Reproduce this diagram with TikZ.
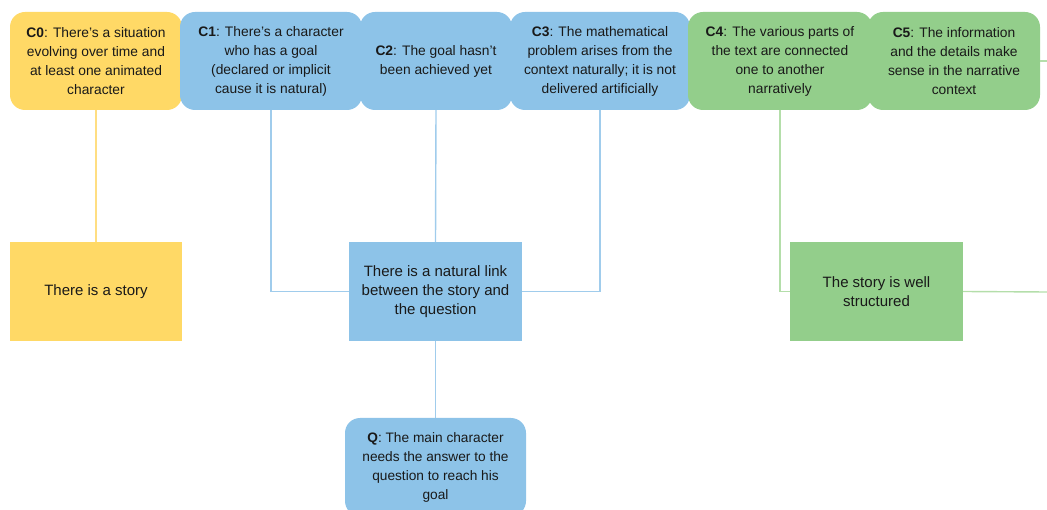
\documentclass[tikz,border=0pt]{standalone}
\usepackage{fontspec}
\setmainfont{Liberation Sans}
\definecolor{yel}{RGB}{255,217,102}
\definecolor{blu}{RGB}{141,195,232}
\definecolor{grn}{RGB}{147,206,139}
\definecolor{yelL}{RGB}{255,222,130}
\definecolor{bluL}{RGB}{160,204,236}
\definecolor{grnL}{RGB}{180,222,170}
\definecolor{txt}{RGB}{25,25,25}
\tikzset{
  topbox/.style={rounded corners=15pt, minimum height=98pt, inner sep=0pt, align=center, text=txt,
     font=\fontsize{13.8}{19}\selectfont},
  botbox/.style={minimum height=99pt, inner sep=0pt, align=center, text=txt,
     font=\fontsize{15}{19}\selectfont},
  link/.style={line width=1.4pt},
}
\begin{document}
\begin{tikzpicture}[x=1pt,y=-1pt]
\useasboundingbox (0,0) rectangle (1047,510);
\clip (0,0) rectangle (1047,510);
\node[botbox, fill=yel, minimum width=172pt] (story) at (96,291.5) {There is a story};
\node[botbox, fill=blu, minimum width=173pt] (link) at (435.5,291.5) {There is a natural link\\between the story and\\the question};
\node[botbox, fill=grn, minimum width=173pt] (structured) at (876.5,291.5) {The story is well\\structured};
\node[topbox, fill=blu, minimum width=181pt, minimum height=98pt, font=\fontsize{13.7}{19}\selectfont] (q) at (435.5,467) {\textbf{Q}: The main character\\needs the answer to the\\question to reach his\\goal};

\node[topbox, fill=yel, minimum width=172pt] (c0) at (96,61) {\textbf{C0}: There's a situation\\evolving over time and\\at least one animated\\character};
\node[topbox, fill=blu, minimum width=182pt] (c1) at (271,61) {\textbf{C1}: There's a character\\who has a goal\\(declared or implicit\\cause it is natural)};
\node[topbox, fill=blu, minimum width=152pt] (c2) at (436,61) {\textbf{C2}: The goal hasn't\\been achieved yet};
\node[topbox, fill=blu, minimum width=180pt] (c3) at (600,61) {\textbf{C3}: The mathematical\\problem arises from the\\context naturally; it is not\\delivered artificially};
\node[topbox, fill=grn, minimum width=184pt] (c4) at (780,61) {\textbf{C4}: The various parts of\\the text are connected\\one to another\\narratively};
\node[topbox, fill=grn, minimum width=172pt] (c5) at (954,61) {\textbf{C5}: The information\\and the details make\\sense in the narrative\\context};

\coordinate (eR) at (1047,292);
\coordinate (eT) at (1047,61);

\draw[link, yelL] (c0.south) -- (story.north);
\draw[link, bluL] (c1.south) |- (link.west);
\draw[link, bluL] (c2.south) -- (link.north);
\draw[link, bluL] (c3.south) |- (link.east);
\draw[link, bluL] (link.south) -- (q.north);
\draw[link, grnL] (c4.south) |- (structured.west);
\draw[link, grnL] (structured.east) -- (eR);
\draw[link, grnL] (c5.east) -- (eT);
\end{tikzpicture}
\end{document}
